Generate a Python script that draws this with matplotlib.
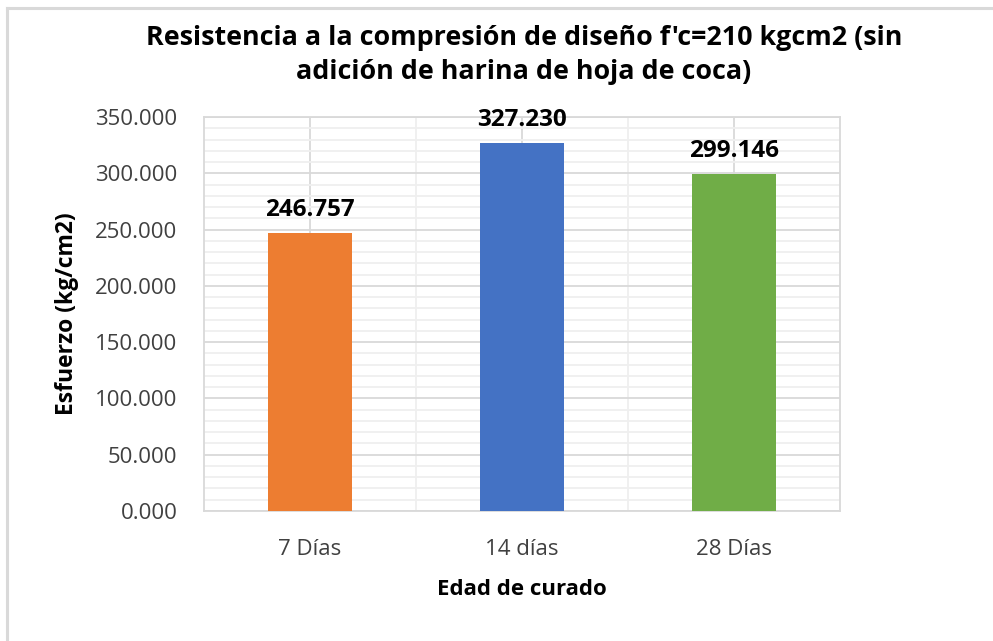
import matplotlib

matplotlib.use("Agg")
import matplotlib.pyplot as plt
from matplotlib.lines import Line2D
from matplotlib.ticker import FixedLocator, MultipleLocator, FuncFormatter

categories = ["7 Días", "14 días", "28 Días"]
values = [246.757, 327.230, 299.146]
colors = ["#ED7D31", "#4472C4", "#70AD47"]

title = "Resistencia a la compresión de diseño f'c=210 kgcm2 (sin\nadición de harina de hoja de coca)"
xlabel = "Edad de curado"
ylabel = "Esfuerzo (kg/cm2)"

plt.rcParams["font.family"] = ["Open Sans", "DejaVu Sans"]

fig = plt.figure(figsize=(9.93, 6.41), dpi=100, facecolor="white")
ax = fig.add_axes([204 / 993, 1 - 511 / 641, 636 / 993, 394 / 641])

x = list(range(len(categories)))
ax.bar(x, values, width=0.4, color=colors, zorder=3)

ax.set_xlim(-0.5, len(categories) - 0.5)
ax.set_ylim(0, 350)

ax.yaxis.set_major_locator(MultipleLocator(50))
ax.yaxis.set_minor_locator(MultipleLocator(10))
ax.yaxis.set_major_formatter(FuncFormatter(lambda v, p: f"{v:.3f}"))
ax.xaxis.set_major_locator(FixedLocator(x))
ax.xaxis.set_minor_locator(FixedLocator([i + 0.5 for i in x[:-1]]))
ax.set_xticklabels(categories)

ax.grid(which="major", color="#d9d9d9", linewidth=1.3, zorder=0)
ax.grid(which="minor", color="#efefef", linewidth=1.3, zorder=0)
ax.tick_params(which="both", length=0)
ax.tick_params(axis="y", labelsize=16, colors="#404040", pad=19)
ax.tick_params(axis="x", labelsize=16, colors="#404040", pad=20)
for sp in ax.spines.values():
    sp.set_color("#d9d9d9")
    sp.set_linewidth(1.3)

for xi, v in zip(x, values):
    ax.annotate(f"{v:.3f}", (xi, v), xytext=(0, 8), textcoords="offset points",
                ha="center", va="bottom", fontsize=17.5, fontweight="bold", color="black")

fig.text(524 / 993, 1 - 55 / 641, title, ha="center", va="center",
         fontsize=19.4, fontweight="bold", linespacing=1.4, color="black")
ax.set_xlabel(xlabel, fontsize=16, fontweight="bold", labelpad=14)
ax.set_ylabel(ylabel, fontsize=16.5, fontweight="bold", labelpad=12)

# chart frame (top and left edges visible)
fig.add_artist(Line2D([7 / 993, 7 / 993], [0, 1 - 8 / 641], color="#d9d9d9", lw=2.2,
                      transform=fig.transFigure))
fig.add_artist(Line2D([7 / 993, 1], [1 - 8 / 641, 1 - 8 / 641], color="#d9d9d9", lw=2.2,
                      transform=fig.transFigure))

fig.savefig("out.png", dpi=100, facecolor="white")
